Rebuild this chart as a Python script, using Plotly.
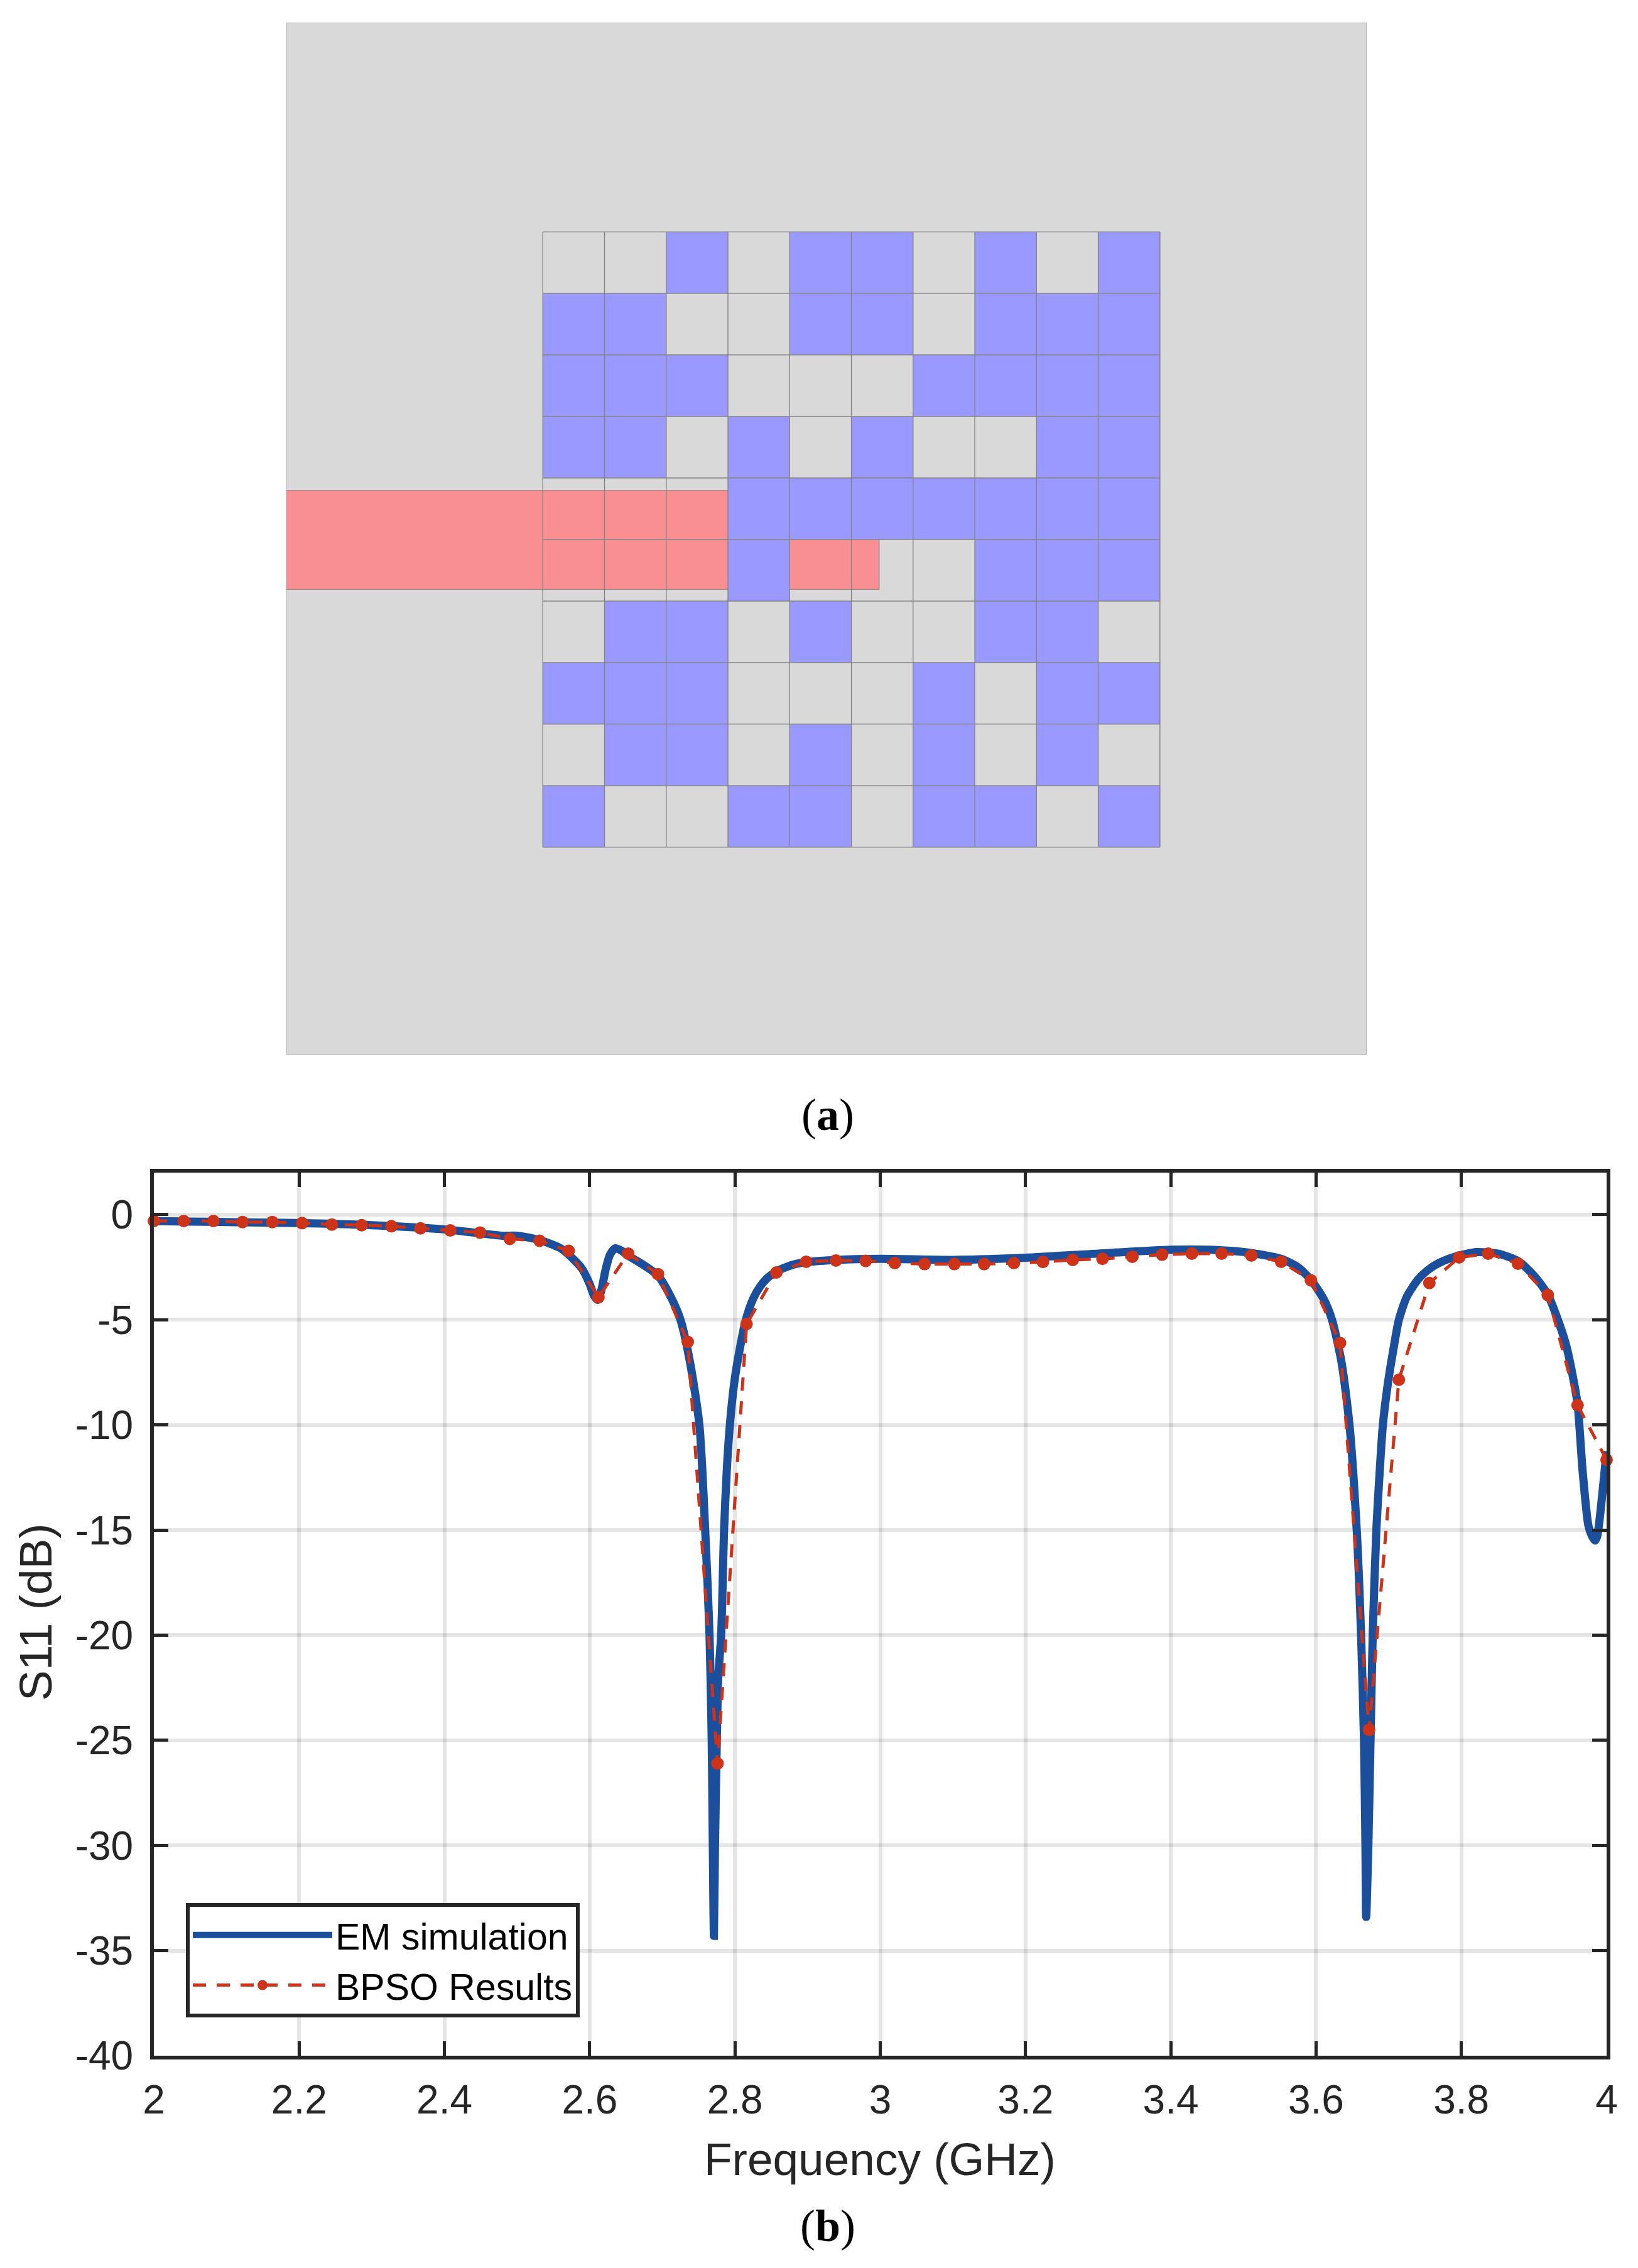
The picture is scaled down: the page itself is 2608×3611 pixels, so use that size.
import plotly.graph_objects as go

W, H = 2608, 3611

# panel (a): patch layout, cells per row, 1 = metal cell
patch_rows = [
    [0, 0, 1, 0, 1, 1, 0, 1, 0, 1],
    [1, 1, 0, 0, 1, 1, 0, 1, 1, 1],
    [1, 1, 1, 0, 0, 0, 1, 1, 1, 1],
    [1, 1, 0, 1, 0, 1, 0, 0, 1, 1],
    [0, 0, 0, 1, 1, 1, 1, 1, 1, 1],
    [0, 0, 0, 1, 0, 0, 0, 1, 1, 1],
    [0, 1, 1, 0, 1, 0, 0, 1, 1, 0],
    [1, 1, 1, 0, 0, 0, 1, 0, 1, 1],
    [0, 1, 1, 0, 1, 0, 1, 0, 1, 0],
    [1, 0, 0, 1, 1, 0, 1, 1, 0, 1],
]
cell_centres = [0.5, 1.5, 2.5, 3.5, 4.5, 5.5, 6.5, 7.5, 8.5, 9.5]
plate_x = [-4.155, 13.35]
plate_y = [-3.4, 13.38]
feed_x = [-4.155, 5.45]
feed_y = [4.2, 5.81]

# panel (b): EM simulation
em_freq = [2.0, 2.05, 2.1, 2.2, 2.3, 2.4, 2.44, 2.48, 2.5, 2.53, 2.56, 2.58, 2.59, 2.60, 2.606, 2.611,
           2.616, 2.622, 2.628, 2.635, 2.643, 2.653, 2.67, 2.694, 2.713, 2.725, 2.738, 2.751, 2.759, 2.765,
           2.768, 2.7695, 2.771, 2.7725, 2.775, 2.777, 2.781, 2.785, 2.789, 2.793, 2.799, 2.806, 2.815, 2.825, 2.835, 2.845, 2.857,
           2.87, 2.883, 2.9, 2.94, 3.0, 3.1, 3.2, 3.3, 3.4, 3.45, 3.506, 3.552, 3.575, 3.593, 3.611, 3.622, 3.635, 3.646,
           3.656, 3.662, 3.666, 3.668, 3.669, 3.672, 3.675, 3.678, 3.683, 3.688, 3.692, 3.699, 3.706, 3.714, 3.725, 3.74, 3.753,
           3.768, 3.793, 3.821, 3.85, 3.878, 3.9, 3.919, 3.935, 3.945, 3.953, 3.96, 3.967, 3.975, 3.98, 3.984, 3.987, 3.99, 4.0]
em_s11 = [-0.3, -0.33, -0.35, -0.4, -0.5, -0.7, -0.85, -1.0, -1.0, -1.2, -1.6, -2.2, -2.6, -3.3, -3.85, -4.05,
          -3.6, -2.6, -1.9, -1.6, -1.7, -1.95, -2.3, -2.9, -4.0, -5.0, -7.0, -10.0, -15.0, -20.0,
          -25.0, -30.0, -34.3, -30.0, -25.0, -22.0, -20.0, -15.0, -12.0, -10.0, -8.0, -6.5, -5.0, -4.0, -3.4, -3.0, -2.7,
          -2.5, -2.35, -2.25, -2.15, -2.1, -2.15, -2.05, -1.85, -1.67, -1.67, -1.8, -2.1, -2.5, -3.1, -4.05, -5.0, -7.0, -10.0,
          -15.0, -20.0, -25.0, -30.0, -33.4, -30.0, -25.0, -20.0, -15.0, -12.0, -10.0, -8.0, -6.5, -5.0, -3.9, -3.1, -2.66,
          -2.32, -1.98, -1.78, -1.85, -2.2, -2.9, -3.8, -5.2, -6.3, -7.6, -9.0, -12.2, -14.8, -15.3, -15.5, -15.3, -14.6, -11.25]

# panel (b): BPSO results
bpso_freq = [2.0, 2.041, 2.082, 2.122, 2.163, 2.204, 2.245, 2.286, 2.327, 2.367, 2.408, 2.449, 2.49, 2.531, 2.571,
             2.612, 2.653, 2.694, 2.735, 2.776, 2.816, 2.857, 2.898, 2.939, 2.98, 3.02, 3.061, 3.102, 3.143, 3.184,
             3.224, 3.265, 3.306, 3.347, 3.388, 3.429, 3.47, 3.511, 3.552, 3.593, 3.633, 3.673, 3.714, 3.756, 3.797,
             3.837, 3.878, 3.919, 3.96, 4.0]
bpso_s11 = [-0.3, -0.3, -0.3, -0.35, -0.35, -0.4, -0.47, -0.5, -0.55, -0.65, -0.75, -0.85, -1.15, -1.24, -1.72,
            -3.93, -1.85, -2.83, -6.05, -26.1, -5.2, -2.75, -2.24, -2.18, -2.2, -2.3, -2.35, -2.35, -2.35, -2.3,
            -2.25, -2.15, -2.1, -2.0, -1.9, -1.85, -1.85, -1.94, -2.24, -3.12, -6.1, -24.5, -7.85, -3.25, -2.03,
            -1.85, -2.33, -3.82, -9.06, -11.66]

x_ticks = [2, 2.2, 2.4, 2.6, 2.8, 3, 3.2, 3.4, 3.6, 3.8, 4]
x_labels = ["2", "2.2", "2.4", "2.6", "2.8", "3", "3.2", "3.4", "3.6", "3.8", "4"]
y_ticks = [0, -5, -10, -15, -20, -25, -30, -35, -40]
y_labels = ["0", "-5", "-10", "-15", "-20", "-25", "-30", "-35", "-40"]

GREY = "#D9D9D9"
BLUE = "#9999FF"
RED = "#F98E93"
EDGE = "#848484"
AX = "#262626"
FONT = "Liberation Sans"

fig = go.Figure()

# panel (a) marks
z = [[1 if c else None for c in row] for row in patch_rows]
fig.add_trace(go.Heatmap(x=cell_centres, y=cell_centres, z=z, xaxis="x2", yaxis="y2",
                         colorscale=[[0, BLUE], [1, BLUE]], showscale=False, hoverinfo="skip", zmin=0, zmax=1))
gx, gy = [], []
for i in range(11):
    gx += [i, i, None, 0, 10, None]
    gy += [0, 10, None, i, i, None]
fig.add_trace(go.Scatter(x=gx, y=gy, mode="lines", xaxis="x2", yaxis="y2", showlegend=False,
                         line=dict(color=EDGE, width=1.4), hoverinfo="skip"))

# panel (b) marks
fig.add_trace(go.Scatter(x=em_freq, y=em_s11, mode="lines", name="EM simulation",
                         line=dict(color="#1B4F9C", width=13, shape="spline", smoothing=0.7)))
fig.add_trace(go.Scatter(x=bpso_freq, y=bpso_s11, mode="lines+markers", name="BPSO Results", cliponaxis=False,
                         line=dict(color="#CC3319", width=5, dash="21px,17px"),
                         marker=dict(color="#CC3319", size=20)))

fig.update_layout(
    width=W, height=H, autosize=False, margin=dict(l=0, r=0, t=0, b=0, autoexpand=False),
    paper_bgcolor="white", plot_bgcolor="white",
    font=dict(family=FONT, color=AX),
    xaxis=dict(domain=[245 / W, 2558 / W], range=[2, 4], tickvals=x_ticks, ticktext=x_labels,
               ticks="inside", ticklen=23, tickwidth=4.5, tickcolor=AX, tickfont=dict(size=64, color=AX),
               showline=True, linewidth=6, linecolor=AX, mirror="allticks",
               showgrid=True, gridcolor="rgba(0,0,0,0.1)", gridwidth=6, zeroline=False,
               ticklabelstandoff=9),
    yaxis=dict(domain=[1 - 3273 / H, 1 - 1867 / H], range=[-40, 2], tickvals=y_ticks, ticktext=y_labels,
               ticks="inside", ticklen=23, tickwidth=4.5, tickcolor=AX, tickfont=dict(size=64, color=AX),
               showline=True, linewidth=6, linecolor=AX, mirror="allticks",
               showgrid=True, gridcolor="rgba(0,0,0,0.1)", gridwidth=6, zeroline=False,
               ticklabelstandoff=14),
    xaxis2=dict(domain=[456 / W, 2176 / W], range=plate_x, visible=False, anchor="y2"),
    yaxis2=dict(domain=[1 - 1680 / H, 1 - 36 / H], range=[plate_y[1], plate_y[0]], visible=False, anchor="x2"),
    legend=dict(x=296 / W, y=1 - 3030 / H, xanchor="left", yanchor="top", bgcolor="white",
                xref="container", yref="container",
                bordercolor=AX, borderwidth=6, font=dict(size=59, color="black", family=FONT),
                itemwidth=222, entrywidth=415, entrywidthmode="pixels", traceorder="normal"),
    shapes=[
        dict(type="rect", xref="x2", yref="y2", layer="below", x0=plate_x[0], x1=plate_x[1], y0=plate_y[0], y1=plate_y[1],
             fillcolor=GREY, line=dict(color="#A6A6A6", width=1.5)),
        dict(type="rect", xref="x2", yref="y2", layer="below", x0=feed_x[0], x1=feed_x[1], y0=feed_y[0], y1=feed_y[1],
             fillcolor=RED, line=dict(color="#A08488", width=1.4)),
    ],
    annotations=[
        dict(text="(<b>a</b>)", xref="paper", yref="paper", x=1318 / W, y=1 - 1775 / H, showarrow=False,
             xanchor="center", yanchor="middle", font=dict(family="Liberation Serif", size=72, color="black")),
        dict(text="(<b>b</b>)", xref="paper", yref="paper", x=1318 / W, y=1 - 3544 / H, showarrow=False,
             xanchor="center", yanchor="middle", font=dict(family="Liberation Serif", size=72, color="black")),
        dict(text="Frequency (GHz)", xref="paper", yref="paper", x=1401 / W, y=1 - 3437 / H, showarrow=False,
             xanchor="center", yanchor="middle", font=dict(size=73, color=AX)),
        dict(text="S11 (dB)", xref="paper", yref="paper", x=56 / W, y=1 - 2567 / H, showarrow=False, textangle=-90,
             xanchor="center", yanchor="middle", font=dict(size=73, color=AX)),
    ],
)

fig.write_html("out.html", config=dict(displayModeBar=False),
               post_script="document.body.style.margin='0';document.body.style.overflow='hidden';")
